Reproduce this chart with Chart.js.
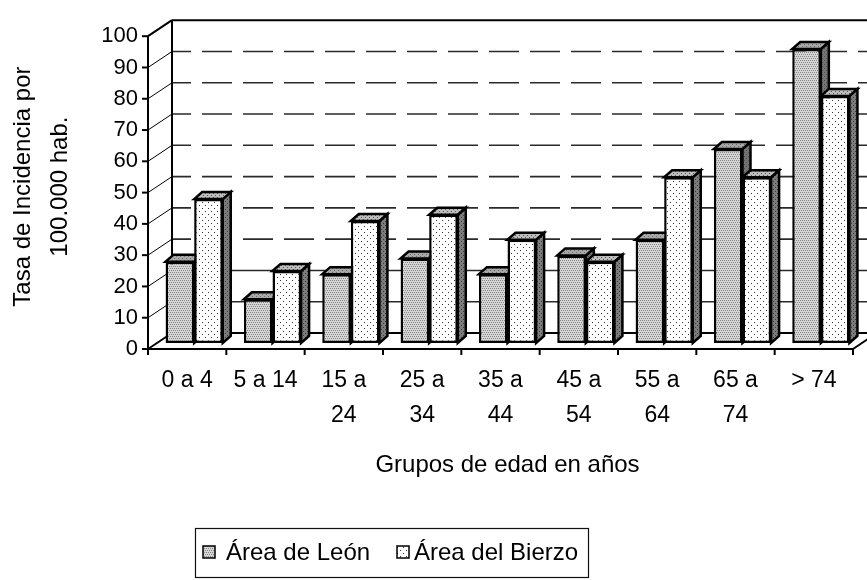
<!DOCTYPE html>
<html>
<head>
<meta charset="utf-8">
<script src="https://cdn.jsdelivr.net/npm/chart.js@4.4.1/dist/chart.umd.min.js"></script>
<style>
  html, body { margin: 0; padding: 0; background: #fff; }
  #wrap { position: relative; width: 867px; height: 580px; }
</style>
</head>
<body>
<div id="wrap"><canvas id="chart"></canvas></div>
<script>
// datos
const categories = ['0 a 4', '5 a 14', ['15 a', '24'], ['25 a', '34'], ['35 a', '44'], ['45 a', '54'], ['55 a', '64'], ['65 a', '74'], '> 74'];
const seriesNames = ['Área de León', 'Área del Bierzo'];
const leonValues = [26, 14, 22, 27, 22, 28, 33, 62, 94];
const bierzoValues = [46, 23, 39, 41, 33, 26, 53, 53, 79];
const yMin = 0, yMax = 100, yStep = 10;

const FONT = 'Liberation Sans, Arial, sans-serif';
const canvas = document.getElementById('chart');
const ctx0 = canvas.getContext('2d');

// tramas de relleno
function makePattern(bg, fg, w, h, pts) {
  const c = document.createElement('canvas');
  c.width = w; c.height = h;
  const g = c.getContext('2d');
  g.fillStyle = bg; g.fillRect(0, 0, w, h);
  g.fillStyle = fg;
  pts.forEach(p => g.fillRect(p[0], p[1], 1, 1));
  return ctx0.createPattern(c, 'repeat');
}
const leonFront = makePattern('#d6d6d6', '#858585', 4, 4, [[0, 0], [2, 0], [1, 2], [3, 2]]);
const bierzoFront = makePattern('#ffffff', '#333333', 6, 6, [[1, 1], [4, 4]]);
const leonTop = makePattern('#a8a8a8', '#6a6a6a', 4, 4, [[0, 0], [2, 2]]);
const bierzoTop = makePattern('#bdbdbd', '#555555', 4, 4, [[1, 1], [3, 3]]);
const leonSide = makePattern('#747474', '#4a4a4a', 4, 4, [[0, 0], [2, 2]]);
const bierzoSide = makePattern('#7c7c7c', '#3a3a3a', 4, 4, [[1, 1], [3, 3]]);

const faces = [
  { front: leonFront, top: leonTop, side: leonSide },
  { front: bierzoFront, top: bierzoTop, side: bierzoSide }
];

// profundidad de la perspectiva
const DX = 8, DY = 7;              // profundidad de cada barra
const FRONT = { dx: -7, dy: 6 };   // plano frontal (ejes)
const BACK = { dx: 17, dy: -10 };  // pared del fondo

function line(ctx, x1, y1, x2, y2) {
  ctx.beginPath();
  ctx.moveTo(x1, y1);
  ctx.lineTo(x2, y2);
  ctx.stroke();
}

const threeD = {
  id: 'threeD',
  beforeDatasetsDraw(chart) {
    const { ctx, chartArea: a, scales: { y } } = chart;
    const W = chart.width;
    const fx = a.left + FRONT.dx, bx = a.left + BACK.dx;
    const front = v => y.getPixelForValue(v) + FRONT.dy;
    const back = v => y.getPixelForValue(v) + BACK.dy;
    const cw = (a.right - a.left) / categories.length;
    ctx.save();

    // lineas de division en la pared del fondo
    ctx.strokeStyle = '#2a2a2a';
    ctx.lineWidth = 1.6;
    for (let v = yMin + yStep; v < yMax; v += yStep) {
      ctx.setLineDash(v >= 30 ? [30, 11] : []);
      ctx.lineDashOffset = 11;
      line(ctx, bx, back(v), W, back(v));
    }
    ctx.setLineDash([]);

    // diagonales desde el eje frontal
    ctx.strokeStyle = '#000';
    ctx.lineWidth = 1;
    for (let v = yMin + yStep; v < yMax; v += yStep) {
      line(ctx, fx, front(v), bx, back(v));
    }

    ctx.lineWidth = 2;
    // pared del fondo y suelo
    line(ctx, bx, back(yMin), bx, back(yMax));
    line(ctx, bx, back(yMax), W, back(yMax));
    line(ctx, fx, front(yMax), bx, back(yMax));
    line(ctx, bx, back(yMin), W, back(yMin));
    line(ctx, fx, front(yMin), bx, back(yMin));
    // eje vertical frontal
    line(ctx, fx, front(yMax), fx, front(yMin));
    for (let v = yMin; v <= yMax; v += yStep) {
      line(ctx, fx - 6, front(v), fx, front(v));
    }
    // eje horizontal frontal
    const fr = a.right + FRONT.dx;
    line(ctx, fx, front(yMin), fr, front(yMin));
    line(ctx, fr, front(yMin), a.right + BACK.dx, back(yMin));
    for (let k = 0; k <= categories.length; k++) {
      const px = a.left + k * cw + FRONT.dx;
      line(ctx, px, front(yMin), px, front(yMin) + 6);
    }

    // caras superior y lateral de las barras
    ctx.lineWidth = 2.5;
    ctx.lineJoin = 'miter';
    for (let i = 0; i < categories.length; i++) {
      chart.data.datasets.forEach((ds, d) => {
        const el = chart.getDatasetMeta(d).data[i];
        const { x: cx, y: top, base, width } = el.getProps(['x', 'y', 'base', 'width'], true);
        const l = cx - width / 2, r = cx + width / 2;
        ctx.beginPath();
        ctx.moveTo(r, top);
        ctx.lineTo(r + DX, top - DY);
        ctx.lineTo(r + DX, base - DY);
        ctx.lineTo(r, base);
        ctx.closePath();
        ctx.fillStyle = faces[d].side;
        ctx.fill();
        ctx.stroke();
        ctx.beginPath();
        ctx.moveTo(l, top);
        ctx.lineTo(l + DX, top - DY);
        ctx.lineTo(r + DX, top - DY);
        ctx.lineTo(r, top);
        ctx.closePath();
        ctx.fillStyle = faces[d].top;
        ctx.fill();
        ctx.stroke();
      });
    }
    ctx.restore();
  },
  afterDraw(chart) {
    // leyenda con recuadro
    const { ctx } = chart;
    ctx.save();
    ctx.strokeStyle = '#111';
    ctx.lineWidth = 1.2;
    ctx.strokeRect(195.5, 528.5, 393, 49);
    ctx.font = '24px ' + FONT;
    ctx.textBaseline = 'middle';
    const items = [{ sx: 203, tx: 226 }, { sx: 397, tx: 414 }];
    items.forEach((it, d) => {
      ctx.fillStyle = faces[d].front;
      ctx.fillRect(it.sx, 546, 12, 12);
      ctx.lineWidth = 1.5;
      ctx.strokeStyle = '#000';
      ctx.strokeRect(it.sx, 546, 12, 12);
      ctx.fillStyle = '#000';
      ctx.fillText(seriesNames[d], it.tx, 553);
    });
    ctx.restore();
  }
};

new Chart(canvas, {
  type: 'bar',
  data: {
    labels: categories,
    datasets: [
      { label: seriesNames[0], data: leonValues, backgroundColor: leonFront },
      { label: seriesNames[1], data: bierzoValues, backgroundColor: bierzoFront }
    ]
  },
  options: {
    responsive: true,
    maintainAspectRatio: false,
    animation: false,
    layout: { padding: { left: 0, right: 7, top: 20, bottom: 0 } },
    datasets: {
      bar: {
        borderColor: '#000',
        borderWidth: 2.5,
        borderSkipped: false,
        categoryPercentage: 0.73,
        barPercentage: 1
      }
    },
    scales: {
      x: {
        grid: { display: false, drawTicks: false },
        border: { display: false },
        ticks: {
          color: '#000',
          font: { family: FONT, size: 23, lineHeight: 1.52 },
          padding: 20,
          labelOffset: -7,
          maxRotation: 0,
          autoSkip: false
        },
        title: {
          display: true,
          text: 'Grupos de edad en años',
          color: '#000',
          font: { family: FONT, size: 24 },
          padding: { top: 0, bottom: 100 }
        },
        afterFit(scale) { scale.height = 237; }
      },
      y: {
        min: yMin,
        max: yMax,
        grid: { display: false, drawTicks: false },
        border: { display: false },
        ticks: {
          stepSize: yStep,
          color: '#000',
          font: { family: FONT, size: 22 },
          padding: 17,
          labelOffset: 6
        },
        title: {
          display: true,
          text: ['Tasa de Incidencia por', '100.000 hab.'],
          color: '#000',
          font: { family: FONT, size: 24, lineHeight: 1.54 },
          padding: { top: 5, bottom: 0 }
        },
        afterFit(scale) { scale.width = 155; }
      }
    },
    plugins: {
      legend: { display: false },
      tooltip: { enabled: false }
    }
  },
  plugins: [threeD]
});
</script>
</body>
</html>
